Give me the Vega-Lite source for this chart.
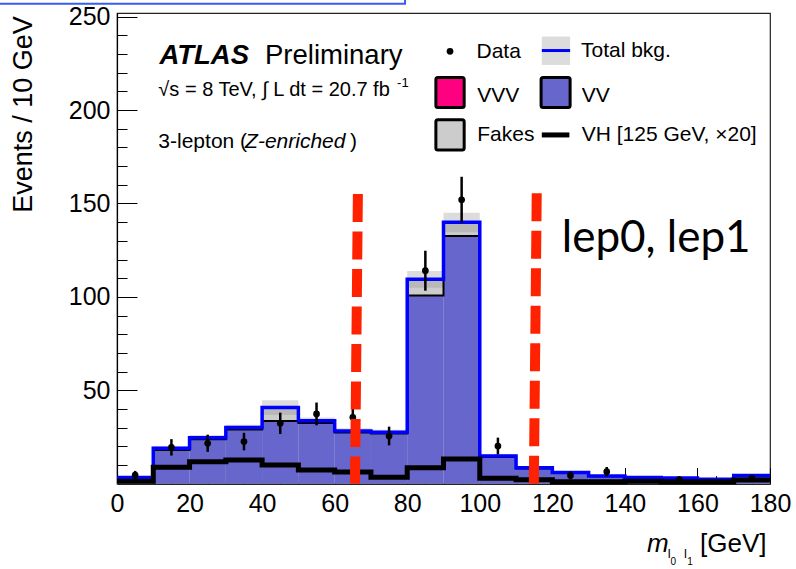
{
"$schema":"https://vega.github.io/schema/vega-lite/v6.json",
"width":653,"height":470.6,
"autosize":"none",
"padding":{"left":117,"top":13,"right":26,"bottom":85.4},
"background":"white",
"config":{"view":{"stroke":"#222","strokeWidth":1.2},"font":"Liberation Sans","axis":{"grid":false}},
"datasets":{
"bins":[
{"lo":0,"hi":10,"vv":2.7,"tot":3.2,"ulo":2.4,"uhi":4.0,"vh":1.2},
{"lo":10,"hi":20,"vv":18.0,"tot":18.9,"ulo":17.6,"uhi":20.2,"vh":8.7},
{"lo":20,"hi":30,"vv":23.8,"tot":24.6,"ulo":23.2,"uhi":26.0,"vh":11.7},
{"lo":30,"hi":40,"vv":29.0,"tot":30.0,"ulo":28.5,"uhi":31.5,"vh":12.6},
{"lo":40,"hi":50,"vv":33.5,"tot":40.7,"ulo":36.8,"uhi":44.6,"vh":10.0},
{"lo":50,"hi":60,"vv":32.5,"tot":33.7,"ulo":32.0,"uhi":35.4,"vh":7.3},
{"lo":60,"hi":70,"vv":27.3,"tot":28.2,"ulo":26.8,"uhi":29.6,"vh":6.2},
{"lo":70,"hi":80,"vv":26.8,"tot":27.5,"ulo":26.1,"uhi":28.9,"vh":3.4},
{"lo":80,"hi":90,"vv":100.7,"tot":109.4,"ulo":104.9,"uhi":113.9,"vh":8.5},
{"lo":90,"hi":100,"vv":132.6,"tot":140.0,"ulo":134.6,"uhi":145.0,"vh":13.2},
{"lo":100,"hi":110,"vv":14.2,"tot":14.8,"ulo":13.8,"uhi":15.8,"vh":2.8},
{"lo":110,"hi":120,"vv":8.1,"tot":8.5,"ulo":7.8,"uhi":9.2,"vh":2.0},
{"lo":120,"hi":130,"vv":5.8,"tot":6.0,"ulo":5.4,"uhi":6.6,"vh":1.0},
{"lo":130,"hi":140,"vv":3.9,"tot":4.1,"ulo":3.6,"uhi":4.6,"vh":1.0},
{"lo":140,"hi":150,"vv":3.1,"tot":3.2,"ulo":2.8,"uhi":3.6,"vh":1.2},
{"lo":150,"hi":160,"vv":2.9,"tot":3.0,"ulo":2.6,"uhi":3.4,"vh":1.0},
{"lo":160,"hi":170,"vv":2.2,"tot":2.3,"ulo":2.0,"uhi":2.6,"vh":1.0},
{"lo":170,"hi":180,"vv":4.0,"tot":4.3,"ulo":3.8,"uhi":4.8,"vh":1.9},
{"lo":180,"hi":180,"vv":4.0,"tot":4.3,"ulo":3.8,"uhi":4.8,"vh":1.9}
],
"pts":[
{"m":5,"n":4.6,"elo":2.5,"ehi":6.8},
{"m":15,"n":19.4,"elo":15.0,"ehi":23.8},
{"m":25,"n":21.6,"elo":17.0,"ehi":26.2},
{"m":35,"n":22.5,"elo":17.8,"ehi":27.2},
{"m":45,"n":32.3,"elo":26.6,"ehi":38.0},
{"m":55,"n":37.3,"elo":31.2,"ehi":43.4},
{"m":65,"n":35.5,"elo":29.6,"ehi":41.4},
{"m":75,"n":25.5,"elo":20.5,"ehi":30.5},
{"m":85,"n":114,"elo":103.3,"ehi":124.7},
{"m":95,"n":152,"elo":139.7,"ehi":164.3},
{"m":105,"n":20.1,"elo":15.6,"ehi":24.6},
{"m":115,"n":7,"elo":4.4,"ehi":9.6},
{"m":125,"n":4.4,"elo":2.3,"ehi":6.5},
{"m":135,"n":6.4,"elo":3.9,"ehi":8.9},
{"m":155,"n":2.2,"elo":0.7,"ehi":3.7},
{"m":175,"n":2.8,"elo":1.1,"ehi":4.5}
]
},
"resolve":{"axis":{"x":"independent","y":"independent"}},
"layer":[
{"data":{"name":"bins"},"transform":[{"filter":"datum.lo < 180"}],
 "mark":{"type":"rect","fill":"#cccccc"},
 "encoding":{
  "x":{"field":"lo","type":"quantitative","scale":{"domain":[0,180],"nice":false,"zero":false},
   "axis":{"orient":"bottom","values":[0,20,40,60,80,100,120,140,160,180],"tickSize":-16,"tickWidth":1,"tickColor":"#000","labelPadding":24,"labelFontSize":25,"labelColor":"#000","labelFont":"Liberation Sans","labelFlush":false,"labelOverlap":false,"domainColor":"#000","domainWidth":1.2,"title":null,"grid":false,"format":"d"}},
  "x2":{"field":"hi"},
  "y":{"field":"tot","type":"quantitative","scale":{"domain":[0,252],"nice":false,"zero":false},
   "axis":{"orient":"left","values":[50,100,150,200,250],"tickSize":-20,"tickWidth":1,"tickColor":"#000","labelPadding":27,"labelFontSize":25,"labelColor":"#000","labelFont":"Liberation Sans","labelFlush":false,"labelOverlap":false,"domainColor":"#000","domainWidth":1.2,"grid":false,"format":"d",
    "title":"Events / 10 GeV","titleFontSize":27,"titleFontWeight":"normal","titleColor":"#000","titleFont":"Liberation Sans","titleAngle":-90,"titleX":-94,"titleY":101,"titleAlign":"center","titleBaseline":"middle"}},
  "y2":{"datum":0}}},
{"data":{"name":"bins"},
 "mark":{"type":"point","opacity":0},
 "encoding":{
  "x":{"field":"lo","type":"quantitative","scale":{"domain":[0,180],"nice":false,"zero":false},
   "axis":{"orient":"bottom","values":[5,10,15,25,30,35,45,50,55,65,70,75,85,90,95,105,110,115,125,130,135,145,150,155,165,170,175],"tickSize":-8,"tickWidth":1,"tickColor":"#000","labels":false,"domain":false,"title":null,"grid":false}},
  "y":{"field":"tot","type":"quantitative","scale":{"domain":[0,252],"nice":false,"zero":false},
   "axis":{"orient":"left","values":[10,20,30,40,60,70,80,90,110,120,130,140,160,170,180,190,210,220,230,240],"tickSize":-10,"tickWidth":1,"tickColor":"#000","labels":false,"domain":false,"title":null,"grid":false}}}},
{"data":{"name":"bins"},"transform":[{"filter":"datum.lo < 180"}],
 "mark":{"type":"rect","fill":"#6666cc"},
 "encoding":{
  "x":{"field":"lo","type":"quantitative","scale":{"domain":[0,180],"nice":false,"zero":false},"axis":null},
  "x2":{"field":"hi"},
  "y":{"field":"vv","type":"quantitative","scale":{"domain":[0,252],"nice":false,"zero":false},"axis":null},
  "y2":{"datum":0}}},
{"data":{"name":"bins"},"transform":[{"filter":"datum.lo < 180"}],
 "mark":{"type":"rect","fill":"#8a8a8a","opacity":0.3},
 "encoding":{
  "x":{"field":"lo","type":"quantitative","scale":{"domain":[0,180],"nice":false,"zero":false},"axis":null},
  "x2":{"field":"hi"},
  "y":{"field":"ulo","type":"quantitative","scale":{"domain":[0,252],"nice":false,"zero":false},"axis":null},
  "y2":{"field":"uhi"}}},
{"data":{"name":"bins"},
 "mark":{"type":"line","interpolate":"step-after","color":"#000","strokeWidth":2},
 "encoding":{
  "x":{"field":"lo","type":"quantitative","scale":{"domain":[0,180],"nice":false,"zero":false},"axis":null},
  "y":{"field":"vv","type":"quantitative","scale":{"domain":[0,252],"nice":false,"zero":false},"axis":null}}},
{"data":{"name":"bins"},
 "mark":{"type":"line","interpolate":"step-after","color":"#0000ff","strokeWidth":3.5},
 "encoding":{
  "x":{"field":"lo","type":"quantitative","scale":{"domain":[0,180],"nice":false,"zero":false},"axis":null},
  "y":{"field":"tot","type":"quantitative","scale":{"domain":[0,252],"nice":false,"zero":false},"axis":null}}},
{"data":{"name":"bins"},
 "mark":{"type":"line","interpolate":"step-after","color":"#000","strokeWidth":5},
 "encoding":{
  "x":{"field":"lo","type":"quantitative","scale":{"domain":[0,180],"nice":false,"zero":false},"axis":null},
  "y":{"field":"vh","type":"quantitative","scale":{"domain":[0,252],"nice":false,"zero":false},"axis":null}}},
{"data":{"name":"pts"},
 "mark":{"type":"rule","color":"#000","strokeWidth":2.5},
 "encoding":{
  "x":{"field":"m","type":"quantitative","scale":{"domain":[0,180],"nice":false,"zero":false},"axis":null},
  "y":{"field":"elo","type":"quantitative","scale":{"domain":[0,252],"nice":false,"zero":false},"axis":null},
  "y2":{"field":"ehi"}}},
{"data":{"name":"pts"},
 "mark":{"type":"point","filled":true,"shape":"circle","color":"#000","size":45,"opacity":1},
 "encoding":{
  "x":{"field":"m","type":"quantitative","scale":{"domain":[0,180],"nice":false,"zero":false},"axis":null},
  "y":{"field":"n","type":"quantitative","scale":{"domain":[0,252],"nice":false,"zero":false},"axis":null}}},
{"data":{"values":[{"k":"VVV","x":87.9,"x2":95.7,"y":201.4,"y2":217.4},{"k":"VV","x":116.9,"x2":124.9,"y":201.4,"y2":217.4},{"k":"Fakes","x":87.9,"x2":95.7,"y":178.7,"y2":194.8}]},
 "mark":{"type":"rect","stroke":"#000","strokeWidth":3,"cornerRadius":2},
 "encoding":{
  "x":{"field":"x","type":"quantitative","scale":{"domain":[0,180],"nice":false,"zero":false},"axis":null},
  "x2":{"field":"x2"},
  "y":{"field":"y","type":"quantitative","scale":{"domain":[0,252],"nice":false,"zero":false},"axis":null},
  "y2":{"field":"y2"},
  "fill":{"field":"k","type":"nominal","scale":{"domain":["VVV","VV","Fakes"],"range":["#ff0080","#6666cc","#cccccc"]},"legend":null}}},
{"data":{"values":[{"x":117.1,"x2":124.9,"y":224.2,"y2":239.4}]},
 "mark":{"type":"rect","fill":"#8a8a8a","opacity":0.3},
 "encoding":{
  "x":{"field":"x","type":"quantitative","scale":{"domain":[0,180],"nice":false,"zero":false},"axis":null},
  "x2":{"field":"x2"},
  "y":{"field":"y","type":"quantitative","scale":{"domain":[0,252],"nice":false,"zero":false},"axis":null},
  "y2":{"field":"y2"}}},
{"data":{"values":[{"x":117.1,"x2":124.9,"y":231.9}]},
 "mark":{"type":"rule","color":"#0000ff","strokeWidth":3},
 "encoding":{
  "x":{"field":"x","type":"quantitative","scale":{"domain":[0,180],"nice":false,"zero":false},"axis":null},
  "x2":{"field":"x2"},
  "y":{"field":"y","type":"quantitative","scale":{"domain":[0,252],"nice":false,"zero":false},"axis":null}}},
{"data":{"values":[{"x":117.1,"x2":124.7,"y":186.7}]},
 "mark":{"type":"rule","color":"#000","strokeWidth":5},
 "encoding":{
  "x":{"field":"x","type":"quantitative","scale":{"domain":[0,180],"nice":false,"zero":false},"axis":null},
  "x2":{"field":"x2"},
  "y":{"field":"y","type":"quantitative","scale":{"domain":[0,252],"nice":false,"zero":false},"axis":null}}},
{"data":{"values":[{"x":91.8,"y":231.5}]},
 "mark":{"type":"point","filled":true,"shape":"circle","color":"#000","size":45,"opacity":1},
 "encoding":{
  "x":{"field":"x","type":"quantitative","scale":{"domain":[0,180],"nice":false,"zero":false},"axis":null},
  "y":{"field":"y","type":"quantitative","scale":{"domain":[0,252],"nice":false,"zero":false},"axis":null}}},
{"data":{"values":[{"x":99.1,"y":227.8,"t":"Data"},{"x":127.9,"y":228.7,"t":"Total bkg."},{"x":99.3,"y":204.6,"t":"VVV"},{"x":128.1,"y":204.6,"t":"VV"},{"x":99.3,"y":183.2,"t":"Fakes"},{"x":128.1,"y":183.2,"t":"VH [125 GeV, ×20]"}]},
 "mark":{"type":"text","align":"left","baseline":"alphabetic","font":"Liberation Sans","fontSize":21,"color":"#000"},
 "encoding":{
  "x":{"field":"x","type":"quantitative","scale":{"domain":[0,180],"nice":false,"zero":false},"axis":null},
  "y":{"field":"y","type":"quantitative","scale":{"domain":[0,252],"nice":false,"zero":false},"axis":null},
  "text":{"field":"t"}}},
{"data":{"values":[{"x":11.7,"y":224.6,"t":"ATLAS"}]},
 "mark":{"type":"text","align":"left","baseline":"alphabetic","font":"Liberation Sans","fontSize":27.5,"fontStyle":"italic","fontWeight":"bold","color":"#000"},
 "encoding":{
  "x":{"field":"x","type":"quantitative","scale":{"domain":[0,180],"nice":false,"zero":false},"axis":null},
  "y":{"field":"y","type":"quantitative","scale":{"domain":[0,252],"nice":false,"zero":false},"axis":null},
  "text":{"field":"t"}}},
{"data":{"values":[{"x":40.8,"y":224.6,"t":"Preliminary"}]},
 "mark":{"type":"text","align":"left","baseline":"alphabetic","font":"Liberation Sans","fontSize":27.5,"color":"#000"},
 "encoding":{
  "x":{"field":"x","type":"quantitative","scale":{"domain":[0,180],"nice":false,"zero":false},"axis":null},
  "y":{"field":"y","type":"quantitative","scale":{"domain":[0,252],"nice":false,"zero":false},"axis":null},
  "text":{"field":"t"}}},
{"data":{"values":[{"x":11.4,"y":207.3,"t":"√s = 8 TeV, ∫ L dt = 20.7 fb"}]},
 "mark":{"type":"text","align":"left","baseline":"alphabetic","font":"Liberation Sans","fontSize":20,"color":"#000"},
 "encoding":{
  "x":{"field":"x","type":"quantitative","scale":{"domain":[0,180],"nice":false,"zero":false},"axis":null},
  "y":{"field":"y","type":"quantitative","scale":{"domain":[0,252],"nice":false,"zero":false},"axis":null},
  "text":{"field":"t"}}},
{"data":{"values":[{"x":77.2,"y":212.2,"t":"-1"},{"x":156.3,"y":-39.9,"t":"l"},{"x":151.8,"y":-39.9,"t":"l"}]},
 "mark":{"type":"text","align":"left","baseline":"alphabetic","font":"Liberation Sans","fontSize":13,"color":"#000"},
 "encoding":{
  "x":{"field":"x","type":"quantitative","scale":{"domain":[0,180],"nice":false,"zero":false},"axis":null},
  "y":{"field":"y","type":"quantitative","scale":{"domain":[0,252],"nice":false,"zero":false},"axis":null},
  "text":{"field":"t"}}},
{"data":{"values":[{"x":152.6,"y":-43.6,"t":"0"},{"x":157.2,"y":-43.6,"t":"1"}]},
 "mark":{"type":"text","align":"left","baseline":"alphabetic","font":"Liberation Sans","fontSize":10,"color":"#000"},
 "encoding":{
  "x":{"field":"x","type":"quantitative","scale":{"domain":[0,180],"nice":false,"zero":false},"axis":null},
  "y":{"field":"y","type":"quantitative","scale":{"domain":[0,252],"nice":false,"zero":false},"axis":null},
  "text":{"field":"t"}}},
{"data":{"values":[{"x":11.4,"y":179.6,"t":"3-lepton ("},{"x":64.2,"y":179.6,"t":")"}]},
 "mark":{"type":"text","align":"left","baseline":"alphabetic","font":"Liberation Sans","fontSize":21,"color":"#000"},
 "encoding":{
  "x":{"field":"x","type":"quantitative","scale":{"domain":[0,180],"nice":false,"zero":false},"axis":null},
  "y":{"field":"y","type":"quantitative","scale":{"domain":[0,252],"nice":false,"zero":false},"axis":null},
  "text":{"field":"t"}}},
{"data":{"values":[{"x":35.3,"y":179.6,"t":"Z-enriched"}]},
 "mark":{"type":"text","align":"left","baseline":"alphabetic","font":"Liberation Sans","fontSize":21,"fontStyle":"italic","color":"#000"},
 "encoding":{
  "x":{"field":"x","type":"quantitative","scale":{"domain":[0,180],"nice":false,"zero":false},"axis":null},
  "y":{"field":"y","type":"quantitative","scale":{"domain":[0,252],"nice":false,"zero":false},"axis":null},
  "text":{"field":"t"}}},
{"data":{"values":[{"x":146.1,"y":-36.6,"t":"m"}]},
 "mark":{"type":"text","align":"left","baseline":"alphabetic","font":"Liberation Sans","fontSize":26,"fontStyle":"italic","color":"#000"},
 "encoding":{
  "x":{"field":"x","type":"quantitative","scale":{"domain":[0,180],"nice":false,"zero":false},"axis":null},
  "y":{"field":"y","type":"quantitative","scale":{"domain":[0,252],"nice":false,"zero":false},"axis":null},
  "text":{"field":"t"}}},
{"data":{"values":[{"x":160.7,"y":-36.6,"t":"[GeV]"}]},
 "mark":{"type":"text","align":"left","baseline":"alphabetic","font":"Liberation Sans","fontSize":26,"color":"#000"},
 "encoding":{
  "x":{"field":"x","type":"quantitative","scale":{"domain":[0,180],"nice":false,"zero":false},"axis":null},
  "y":{"field":"y","type":"quantitative","scale":{"domain":[0,252],"nice":false,"zero":false},"axis":null},
  "text":{"field":"t"}}},
{"data":{"values":[{"x":122.6,"y":124.2,"t":"lep0, lep1"}]},
 "mark":{"type":"text","align":"left","baseline":"alphabetic","font":"Lato","fontSize":44,"color":"#000"},
 "encoding":{
  "x":{"field":"x","type":"quantitative","scale":{"domain":[0,180],"nice":false,"zero":false},"axis":null},
  "y":{"field":"y","type":"quantitative","scale":{"domain":[0,252],"nice":false,"zero":false},"axis":null},
  "text":{"field":"t"}}},
{"data":{"values":[{"x":66.4,"x2":65.6,"y":155.1,"y2":0},{"x":115.7,"x2":114.9,"y":155.5,"y2":0}]},
 "mark":{"type":"rule","color":"#ff2200","strokeWidth":10,"strokeDash":[28,9.5],"strokeCap":"butt"},
 "encoding":{
  "x":{"field":"x","type":"quantitative","scale":{"domain":[0,180],"nice":false,"zero":false},"axis":null},
  "x2":{"field":"x2"},
  "y":{"field":"y","type":"quantitative","scale":{"domain":[0,252],"nice":false,"zero":false},"axis":null},
  "y2":{"field":"y2"}}},
{"data":{"values":[{"x":-33,"x2":79.4,"y":256.9,"y2":275}]},
 "mark":{"type":"rect","fill":null,"stroke":"#3a5cf0","strokeWidth":2},
 "encoding":{
  "x":{"field":"x","type":"quantitative","scale":{"domain":[0,180],"nice":false,"zero":false},"axis":null},
  "x2":{"field":"x2"},
  "y":{"field":"y","type":"quantitative","scale":{"domain":[0,252],"nice":false,"zero":false},"axis":null},
  "y2":{"field":"y2"}}}
]
}
